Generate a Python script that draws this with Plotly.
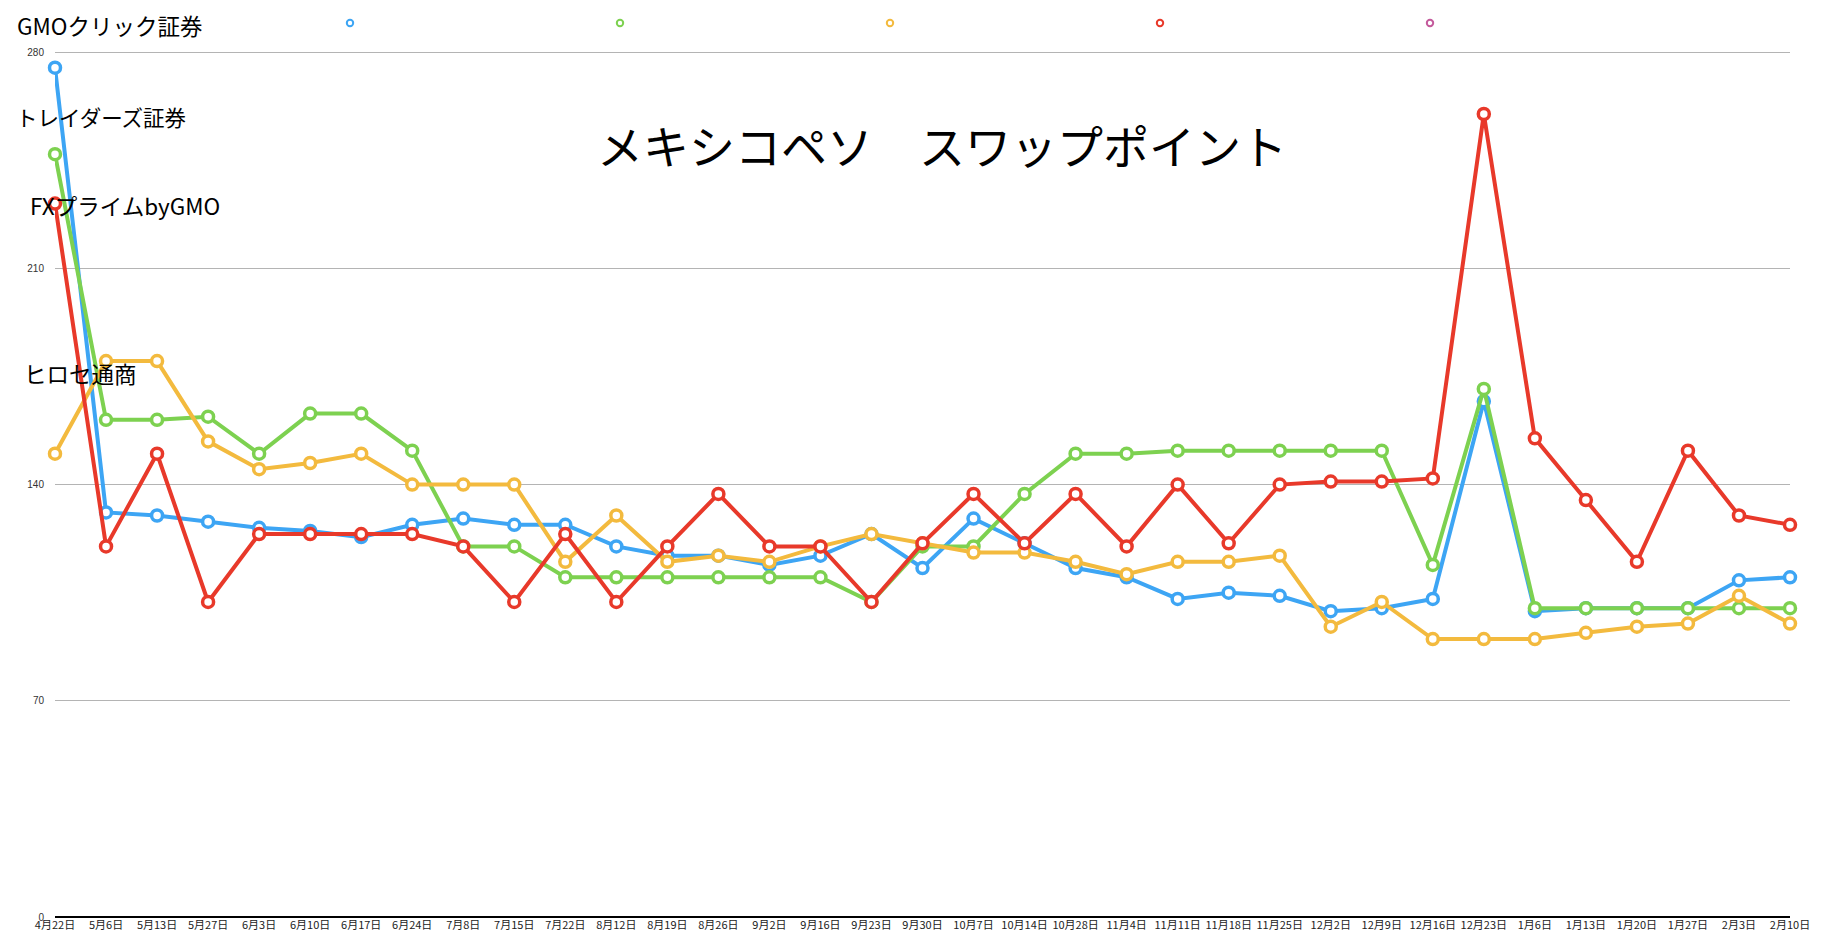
"""
メキシコペソ スワップポイント — 4社比較の折れ線グラフ
"""

import plotly.graph_objects as go

# ── データ ────────────────────────────────────────────────────────────────

dates = [
    "4月22日", "5月6日", "5月13日", "5月27日", "6月3日", "6月10日", "6月17日",
    "6月24日", "7月8日", "7月15日", "7月22日", "8月12日", "8月19日", "8月26日",
    "9月2日", "9月16日", "9月23日", "9月30日", "10月7日", "10月14日", "10月28日",
    "11月4日", "11月11日", "11月18日", "11月25日", "12月2日", "12月9日", "12月16日",
    "12月23日", "1月6日", "1月13日", "1月20日", "1月27日", "2月3日", "2月10日",
]

gmo_click = [
    275, 131, 130, 128, 126, 125, 123, 127, 129, 127, 127, 120, 117, 117, 114,
    117, 124, 113, 129, 121, 113, 110, 103, 105, 104, 99, 100, 103, 167, 99,
    100, 100, 100, 109, 110,
]
traders = [
    247, 161, 161, 162, 150, 163, 163, 151, 120, 120, 110, 110, 110, 110, 110,
    110, 102, 120, 120, 137, 150, 150, 151, 151, 151, 151, 151, 114, 171, 100,
    100, 100, 100, 100, 100,
]
fx_prime = [
    150, 180, 180, 154, 145, 147, 150, 140, 140, 140, 115, 130, 115, 117, 115,
    120, 124, 121, 118, 118, 115, 111, 115, 115, 117, 94, 102, 90, 90, 90,
    92, 94, 95, 104, 95,
]
hirose = [
    231, 120, 150, 102, 124, 124, 124, 124, 120, 102, 124, 102, 120, 137, 120,
    120, 102, 121, 137, 121, 137, 120, 140, 121, 140, 141, 141, 142, 260, 155,
    135, 115, 151, 130, 127,
]

series_names = ["GMOクリック証券", "トレイダーズ証券", "FXプライムbyGMO", "ヒロセ通商"]
series_values = [gmo_click, traders, fx_prime, hirose]

y_ticks = [0, 70, 140, 210, 280]

TITLE = "メキシコペソ　スワップポイント"

# ── スタイル ──────────────────────────────────────────────────────────────

COLORS = ["#3da5f4", "#7dd150", "#f3ba3e", "#e8392a", "#c45a9c"]
FONT = "Noto Sans CJK JP"
W, H = 1844, 944
L, R, T, B = 55, 54, 51, 27          # plot area margins (px)
PW, PH = W - L - R, H - T - B


def px_to_paper(x, y):
    return (x - L) / PW, (H - B - y) / PH


fig = go.Figure()

for name, vals, color in zip(series_names, series_values, COLORS):
    fig.add_trace(go.Scatter(
        x=list(range(len(dates))), y=vals,
        name=name, mode="lines+markers",
        line=dict(color=color, width=4),
        marker=dict(size=11, color="white", line=dict(color=color, width=3.5)),
        hovertemplate=f"{name}<br>%{{text}}: %{{y}}<extra></extra>",
        text=dates,
        showlegend=False,
        cliponaxis=False,
    ))

# legend symbols (small open circles in a row, labels drawn apart)
for i, color in enumerate(COLORS):
    cx, cy = px_to_paper(350 + 270 * i, 23)
    rx, ry = 3.2 / PW, 3.2 / PH
    fig.add_shape(
        type="circle", xref="paper", yref="paper",
        x0=cx - rx, x1=cx + rx, y0=cy - ry, y1=cy + ry,
        line=dict(color=color, width=2), fillcolor="white",
    )

label_pos = [(15, 25), (14, 116), (28, 205), (22, 373)]
label_size = [22.5, 21.5, 22.5, 22.5]
for name, (lx, ly), fs in zip(series_names, label_pos, label_size):
    ax, ay = px_to_paper(lx, ly)
    fig.add_annotation(
        x=ax, y=ay, xref="paper", yref="paper",
        text=name, showarrow=False, xanchor="left", yanchor="middle",
        font=dict(family=FONT, size=fs, color="#000000"),
    )

tx, ty = px_to_paper(942, 144)
fig.add_annotation(
    x=tx, y=ty, xref="paper", yref="paper",
    text=TITLE, showarrow=False, xanchor="center", yanchor="middle",
    font=dict(family=FONT, size=46, color="#000000"),
)

fig.update_layout(
    width=W, height=H,
    margin=dict(l=L, r=R, t=T, b=B, pad=0),
    plot_bgcolor="white", paper_bgcolor="white",
    font=dict(family=FONT),
    showlegend=False,
)
fig.update_xaxes(
    range=[0, len(dates) - 1],
    tickmode="array", tickvals=list(range(len(dates))), ticktext=dates,
    tickfont=dict(family=FONT, size=11, color="#222222"),
    showgrid=False, zeroline=False,
    showline=False, ticks="", ticklen=0,
    tickangle=0,
)
fig.update_yaxes(
    range=[0, 280.4],
    tickmode="array", tickvals=y_ticks,
    tickfont=dict(family="Liberation Sans", size=10, color="#333333"),
    showgrid=True, gridcolor="#b4b4b4", gridwidth=1,
    zeroline=True, zerolinecolor="#000000", zerolinewidth=1.5,
    showline=False, ticks="", ticklabelstandoff=10,
)

# body margin would push the fixed-size figure off its place
fig.write_html(
    "out.html",
    config={"displayModeBar": False},
    post_script="document.body.style.margin='0';",
)
